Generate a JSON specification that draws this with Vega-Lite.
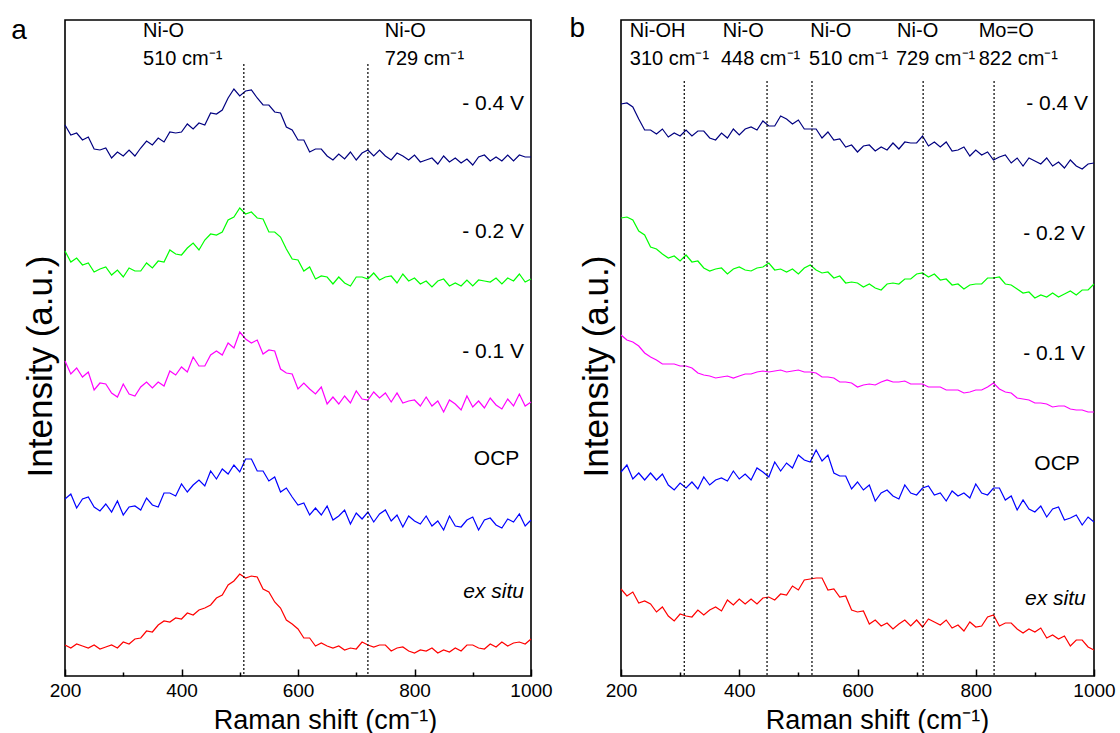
{
"$schema": "https://vega.github.io/schema/vega-lite/v6.json",
"padding": {"left": 10, "top": 14, "right": 10, "bottom": 1},
"background": "white",
"spacing": 90,
"bounds": "flush",
"config": {
  "view": {"stroke": "#000", "strokeWidth": 1.6},
  "font": "Liberation Sans",
  "text": {"font": "Liberation Sans", "color": "#000"}
},
"datasets": {
"pa": [
{"s":"-0.4 V","x":200,"y":548},{"s":"-0.4 V","x":210,"y":538},{"s":"-0.4 V","x":220,"y":540},{"s":"-0.4 V","x":230,"y":533},{"s":"-0.4 V","x":240,"y":536},{"s":"-0.4 V","x":250,"y":524},{"s":"-0.4 V","x":260,"y":523},{"s":"-0.4 V","x":270,"y":525},{"s":"-0.4 V","x":280,"y":515},{"s":"-0.4 V","x":290,"y":521},
{"s":"-0.4 V","x":300,"y":517},{"s":"-0.4 V","x":310,"y":523},{"s":"-0.4 V","x":320,"y":517},{"s":"-0.4 V","x":330,"y":525},{"s":"-0.4 V","x":340,"y":532},{"s":"-0.4 V","x":350,"y":528},{"s":"-0.4 V","x":360,"y":535},{"s":"-0.4 V","x":370,"y":531},{"s":"-0.4 V","x":380,"y":541},{"s":"-0.4 V","x":390,"y":540},
{"s":"-0.4 V","x":400,"y":541},{"s":"-0.4 V","x":410,"y":549},{"s":"-0.4 V","x":420,"y":544},{"s":"-0.4 V","x":430,"y":550},{"s":"-0.4 V","x":440,"y":548},{"s":"-0.4 V","x":450,"y":560},{"s":"-0.4 V","x":460,"y":559},{"s":"-0.4 V","x":470,"y":563},{"s":"-0.4 V","x":480,"y":575},{"s":"-0.4 V","x":490,"y":584},
{"s":"-0.4 V","x":500,"y":577},{"s":"-0.4 V","x":510,"y":582},{"s":"-0.4 V","x":520,"y":583},{"s":"-0.4 V","x":530,"y":575},{"s":"-0.4 V","x":540,"y":568},{"s":"-0.4 V","x":550,"y":568},{"s":"-0.4 V","x":560,"y":561},{"s":"-0.4 V","x":570,"y":560},{"s":"-0.4 V","x":580,"y":546},{"s":"-0.4 V","x":590,"y":543},
{"s":"-0.4 V","x":600,"y":533},{"s":"-0.4 V","x":610,"y":533},{"s":"-0.4 V","x":620,"y":521},{"s":"-0.4 V","x":630,"y":524},{"s":"-0.4 V","x":640,"y":524},{"s":"-0.4 V","x":650,"y":517},{"s":"-0.4 V","x":660,"y":513},{"s":"-0.4 V","x":670,"y":519},{"s":"-0.4 V","x":680,"y":514},{"s":"-0.4 V","x":690,"y":521},
{"s":"-0.4 V","x":700,"y":513},{"s":"-0.4 V","x":710,"y":520},{"s":"-0.4 V","x":720,"y":523},{"s":"-0.4 V","x":730,"y":517},{"s":"-0.4 V","x":740,"y":523},{"s":"-0.4 V","x":750,"y":517},{"s":"-0.4 V","x":760,"y":513},{"s":"-0.4 V","x":770,"y":520},{"s":"-0.4 V","x":780,"y":517},{"s":"-0.4 V","x":790,"y":513},
{"s":"-0.4 V","x":800,"y":518},{"s":"-0.4 V","x":810,"y":511},{"s":"-0.4 V","x":820,"y":513},{"s":"-0.4 V","x":830,"y":515},{"s":"-0.4 V","x":840,"y":509},{"s":"-0.4 V","x":850,"y":517},{"s":"-0.4 V","x":860,"y":511},{"s":"-0.4 V","x":870,"y":515},{"s":"-0.4 V","x":880,"y":510},{"s":"-0.4 V","x":890,"y":514},
{"s":"-0.4 V","x":900,"y":508},{"s":"-0.4 V","x":910,"y":516},{"s":"-0.4 V","x":920,"y":518},{"s":"-0.4 V","x":930,"y":512},{"s":"-0.4 V","x":940,"y":516},{"s":"-0.4 V","x":950,"y":512},{"s":"-0.4 V","x":960,"y":518},{"s":"-0.4 V","x":970,"y":512},{"s":"-0.4 V","x":980,"y":518},{"s":"-0.4 V","x":990,"y":516},{"s":"-0.4 V","x":1000,"y":516},
{"s":"-0.2 V","x":200,"y":422},{"s":"-0.2 V","x":210,"y":411},{"s":"-0.2 V","x":220,"y":415},{"s":"-0.2 V","x":230,"y":408},{"s":"-0.2 V","x":240,"y":410},{"s":"-0.2 V","x":250,"y":401},{"s":"-0.2 V","x":260,"y":404},{"s":"-0.2 V","x":270,"y":406},{"s":"-0.2 V","x":280,"y":398},{"s":"-0.2 V","x":290,"y":403},
{"s":"-0.2 V","x":300,"y":396},{"s":"-0.2 V","x":310,"y":405},{"s":"-0.2 V","x":320,"y":402},{"s":"-0.2 V","x":330,"y":402},{"s":"-0.2 V","x":340,"y":410},{"s":"-0.2 V","x":350,"y":405},{"s":"-0.2 V","x":360,"y":412},{"s":"-0.2 V","x":370,"y":411},{"s":"-0.2 V","x":380,"y":423},{"s":"-0.2 V","x":390,"y":419},
{"s":"-0.2 V","x":400,"y":418},{"s":"-0.2 V","x":410,"y":425},{"s":"-0.2 V","x":420,"y":430},{"s":"-0.2 V","x":430,"y":423},{"s":"-0.2 V","x":440,"y":433},{"s":"-0.2 V","x":450,"y":439},{"s":"-0.2 V","x":460,"y":438},{"s":"-0.2 V","x":470,"y":441},{"s":"-0.2 V","x":480,"y":453},{"s":"-0.2 V","x":490,"y":456},
{"s":"-0.2 V","x":500,"y":465},{"s":"-0.2 V","x":510,"y":459},{"s":"-0.2 V","x":520,"y":461},{"s":"-0.2 V","x":530,"y":455},{"s":"-0.2 V","x":540,"y":454},{"s":"-0.2 V","x":550,"y":441},{"s":"-0.2 V","x":560,"y":441},{"s":"-0.2 V","x":570,"y":436},{"s":"-0.2 V","x":580,"y":424},{"s":"-0.2 V","x":590,"y":414},
{"s":"-0.2 V","x":600,"y":413},{"s":"-0.2 V","x":610,"y":402},{"s":"-0.2 V","x":620,"y":406},{"s":"-0.2 V","x":630,"y":394},{"s":"-0.2 V","x":640,"y":397},{"s":"-0.2 V","x":650,"y":396},{"s":"-0.2 V","x":660,"y":389},{"s":"-0.2 V","x":670,"y":396},{"s":"-0.2 V","x":680,"y":390},{"s":"-0.2 V","x":690,"y":387},
{"s":"-0.2 V","x":700,"y":396},{"s":"-0.2 V","x":710,"y":396},{"s":"-0.2 V","x":720,"y":394},{"s":"-0.2 V","x":730,"y":400},{"s":"-0.2 V","x":740,"y":393},{"s":"-0.2 V","x":750,"y":396},{"s":"-0.2 V","x":760,"y":397},{"s":"-0.2 V","x":770,"y":390},{"s":"-0.2 V","x":780,"y":399},{"s":"-0.2 V","x":790,"y":392},
{"s":"-0.2 V","x":800,"y":395},{"s":"-0.2 V","x":810,"y":389},{"s":"-0.2 V","x":820,"y":392},{"s":"-0.2 V","x":830,"y":386},{"s":"-0.2 V","x":840,"y":392},{"s":"-0.2 V","x":850,"y":394},{"s":"-0.2 V","x":860,"y":387},{"s":"-0.2 V","x":870,"y":390},{"s":"-0.2 V","x":880,"y":387},{"s":"-0.2 V","x":890,"y":393},
{"s":"-0.2 V","x":900,"y":387},{"s":"-0.2 V","x":910,"y":393},{"s":"-0.2 V","x":920,"y":392},{"s":"-0.2 V","x":930,"y":391},{"s":"-0.2 V","x":940,"y":395},{"s":"-0.2 V","x":950,"y":389},{"s":"-0.2 V","x":960,"y":395},{"s":"-0.2 V","x":970,"y":392},{"s":"-0.2 V","x":980,"y":399},{"s":"-0.2 V","x":990,"y":391},{"s":"-0.2 V","x":1000,"y":394},
{"s":"-0.1 V","x":200,"y":312},{"s":"-0.1 V","x":210,"y":299},{"s":"-0.1 V","x":220,"y":305},{"s":"-0.1 V","x":230,"y":296},{"s":"-0.1 V","x":240,"y":301},{"s":"-0.1 V","x":250,"y":283},{"s":"-0.1 V","x":260,"y":290},{"s":"-0.1 V","x":270,"y":289},{"s":"-0.1 V","x":280,"y":280},{"s":"-0.1 V","x":290,"y":276},
{"s":"-0.1 V","x":300,"y":289},{"s":"-0.1 V","x":310,"y":279},{"s":"-0.1 V","x":320,"y":277},{"s":"-0.1 V","x":330,"y":286},{"s":"-0.1 V","x":340,"y":291},{"s":"-0.1 V","x":350,"y":285},{"s":"-0.1 V","x":360,"y":291},{"s":"-0.1 V","x":370,"y":287},{"s":"-0.1 V","x":380,"y":302},{"s":"-0.1 V","x":390,"y":298},
{"s":"-0.1 V","x":400,"y":306},{"s":"-0.1 V","x":410,"y":301},{"s":"-0.1 V","x":420,"y":316},{"s":"-0.1 V","x":430,"y":307},{"s":"-0.1 V","x":440,"y":307},{"s":"-0.1 V","x":450,"y":318},{"s":"-0.1 V","x":460,"y":322},{"s":"-0.1 V","x":470,"y":318},{"s":"-0.1 V","x":480,"y":330},{"s":"-0.1 V","x":490,"y":325},
{"s":"-0.1 V","x":500,"y":341},{"s":"-0.1 V","x":510,"y":334},{"s":"-0.1 V","x":520,"y":330},{"s":"-0.1 V","x":530,"y":333},{"s":"-0.1 V","x":540,"y":319},{"s":"-0.1 V","x":550,"y":323},{"s":"-0.1 V","x":560,"y":322},{"s":"-0.1 V","x":570,"y":304},{"s":"-0.1 V","x":580,"y":300},{"s":"-0.1 V","x":590,"y":299},
{"s":"-0.1 V","x":600,"y":284},{"s":"-0.1 V","x":610,"y":290},{"s":"-0.1 V","x":620,"y":284},{"s":"-0.1 V","x":630,"y":279},{"s":"-0.1 V","x":640,"y":286},{"s":"-0.1 V","x":650,"y":269},{"s":"-0.1 V","x":660,"y":276},{"s":"-0.1 V","x":670,"y":269},{"s":"-0.1 V","x":680,"y":277},{"s":"-0.1 V","x":690,"y":270},
{"s":"-0.1 V","x":700,"y":282},{"s":"-0.1 V","x":710,"y":274},{"s":"-0.1 V","x":720,"y":273},{"s":"-0.1 V","x":730,"y":281},{"s":"-0.1 V","x":740,"y":275},{"s":"-0.1 V","x":750,"y":280},{"s":"-0.1 V","x":760,"y":271},{"s":"-0.1 V","x":770,"y":280},{"s":"-0.1 V","x":780,"y":270},{"s":"-0.1 V","x":790,"y":272},
{"s":"-0.1 V","x":800,"y":273},{"s":"-0.1 V","x":810,"y":267},{"s":"-0.1 V","x":820,"y":276},{"s":"-0.1 V","x":830,"y":267},{"s":"-0.1 V","x":840,"y":272},{"s":"-0.1 V","x":850,"y":261},{"s":"-0.1 V","x":860,"y":273},{"s":"-0.1 V","x":870,"y":269},{"s":"-0.1 V","x":880,"y":263},{"s":"-0.1 V","x":890,"y":277},
{"s":"-0.1 V","x":900,"y":266},{"s":"-0.1 V","x":910,"y":272},{"s":"-0.1 V","x":920,"y":265},{"s":"-0.1 V","x":930,"y":275},{"s":"-0.1 V","x":940,"y":268},{"s":"-0.1 V","x":950,"y":264},{"s":"-0.1 V","x":960,"y":274},{"s":"-0.1 V","x":970,"y":267},{"s":"-0.1 V","x":980,"y":279},{"s":"-0.1 V","x":990,"y":267},{"s":"-0.1 V","x":1000,"y":271},
{"s":"OCP","x":200,"y":174},{"s":"OCP","x":210,"y":179},{"s":"OCP","x":220,"y":165},{"s":"OCP","x":230,"y":174},{"s":"OCP","x":240,"y":176},{"s":"OCP","x":250,"y":166},{"s":"OCP","x":260,"y":162},{"s":"OCP","x":270,"y":169},{"s":"OCP","x":280,"y":161},{"s":"OCP","x":290,"y":172},
{"s":"OCP","x":300,"y":158},{"s":"OCP","x":310,"y":166},{"s":"OCP","x":320,"y":167},{"s":"OCP","x":330,"y":163},{"s":"OCP","x":340,"y":175},{"s":"OCP","x":350,"y":168},{"s":"OCP","x":360,"y":166},{"s":"OCP","x":370,"y":180},{"s":"OCP","x":380,"y":180},{"s":"OCP","x":390,"y":177},
{"s":"OCP","x":400,"y":189},{"s":"OCP","x":410,"y":181},{"s":"OCP","x":420,"y":188},{"s":"OCP","x":430,"y":193},{"s":"OCP","x":440,"y":187},{"s":"OCP","x":450,"y":202},{"s":"OCP","x":460,"y":194},{"s":"OCP","x":470,"y":204},{"s":"OCP","x":480,"y":199},{"s":"OCP","x":490,"y":208},
{"s":"OCP","x":500,"y":201},{"s":"OCP","x":510,"y":214},{"s":"OCP","x":520,"y":214},{"s":"OCP","x":530,"y":202},{"s":"OCP","x":540,"y":202},{"s":"OCP","x":550,"y":192},{"s":"OCP","x":560,"y":196},{"s":"OCP","x":570,"y":181},{"s":"OCP","x":580,"y":185},{"s":"OCP","x":590,"y":176},
{"s":"OCP","x":600,"y":168},{"s":"OCP","x":610,"y":170},{"s":"OCP","x":620,"y":158},{"s":"OCP","x":630,"y":165},{"s":"OCP","x":640,"y":158},{"s":"OCP","x":650,"y":167},{"s":"OCP","x":660,"y":153},{"s":"OCP","x":670,"y":157},{"s":"OCP","x":680,"y":163},{"s":"OCP","x":690,"y":149},
{"s":"OCP","x":700,"y":160},{"s":"OCP","x":710,"y":154},{"s":"OCP","x":720,"y":161},{"s":"OCP","x":730,"y":151},{"s":"OCP","x":740,"y":159},{"s":"OCP","x":750,"y":163},{"s":"OCP","x":760,"y":152},{"s":"OCP","x":770,"y":158},{"s":"OCP","x":780,"y":146},{"s":"OCP","x":790,"y":157},
{"s":"OCP","x":800,"y":152},{"s":"OCP","x":810,"y":149},{"s":"OCP","x":820,"y":157},{"s":"OCP","x":830,"y":147},{"s":"OCP","x":840,"y":152},{"s":"OCP","x":850,"y":143},{"s":"OCP","x":860,"y":157},{"s":"OCP","x":870,"y":147},{"s":"OCP","x":880,"y":146},{"s":"OCP","x":890,"y":153},
{"s":"OCP","x":900,"y":156},{"s":"OCP","x":910,"y":143},{"s":"OCP","x":920,"y":153},{"s":"OCP","x":930,"y":155},{"s":"OCP","x":940,"y":148},{"s":"OCP","x":950,"y":145},{"s":"OCP","x":960,"y":154},{"s":"OCP","x":970,"y":151},{"s":"OCP","x":980,"y":159},{"s":"OCP","x":990,"y":147},{"s":"OCP","x":1000,"y":153},
{"s":"ex situ","x":200,"y":28},{"s":"ex situ","x":210,"y":25},{"s":"ex situ","x":220,"y":29},{"s":"ex situ","x":230,"y":27},{"s":"ex situ","x":240,"y":25},{"s":"ex situ","x":250,"y":28},{"s":"ex situ","x":260,"y":24},{"s":"ex situ","x":270,"y":26},{"s":"ex situ","x":280,"y":28},{"s":"ex situ","x":290,"y":25},
{"s":"ex situ","x":300,"y":31},{"s":"ex situ","x":310,"y":29},{"s":"ex situ","x":320,"y":34},{"s":"ex situ","x":330,"y":35},{"s":"ex situ","x":340,"y":42},{"s":"ex situ","x":350,"y":41},{"s":"ex situ","x":360,"y":48},{"s":"ex situ","x":370,"y":52},{"s":"ex situ","x":380,"y":51},{"s":"ex situ","x":390,"y":55},
{"s":"ex situ","x":400,"y":54},{"s":"ex situ","x":410,"y":60},{"s":"ex situ","x":420,"y":58},{"s":"ex situ","x":430,"y":63},{"s":"ex situ","x":440,"y":65},{"s":"ex situ","x":450,"y":68},{"s":"ex situ","x":460,"y":75},{"s":"ex situ","x":470,"y":78},{"s":"ex situ","x":480,"y":88},{"s":"ex situ","x":490,"y":92},
{"s":"ex situ","x":500,"y":99},{"s":"ex situ","x":510,"y":95},{"s":"ex situ","x":520,"y":97},{"s":"ex situ","x":530,"y":96},{"s":"ex situ","x":540,"y":84},{"s":"ex situ","x":550,"y":81},{"s":"ex situ","x":560,"y":71},{"s":"ex situ","x":570,"y":65},{"s":"ex situ","x":580,"y":53},{"s":"ex situ","x":590,"y":49},
{"s":"ex situ","x":600,"y":44},{"s":"ex situ","x":610,"y":35},{"s":"ex situ","x":620,"y":35},{"s":"ex situ","x":630,"y":27},{"s":"ex situ","x":640,"y":30},{"s":"ex situ","x":650,"y":27},{"s":"ex situ","x":660,"y":25},{"s":"ex situ","x":670,"y":27},{"s":"ex situ","x":680,"y":23},{"s":"ex situ","x":690,"y":25},
{"s":"ex situ","x":700,"y":24},{"s":"ex situ","x":710,"y":31},{"s":"ex situ","x":720,"y":28},{"s":"ex situ","x":730,"y":26},{"s":"ex situ","x":740,"y":28},{"s":"ex situ","x":750,"y":28},{"s":"ex situ","x":760,"y":22},{"s":"ex situ","x":770,"y":25},{"s":"ex situ","x":780,"y":26},{"s":"ex situ","x":790,"y":22},
{"s":"ex situ","x":800,"y":20},{"s":"ex situ","x":810,"y":23},{"s":"ex situ","x":820,"y":22},{"s":"ex situ","x":830,"y":25},{"s":"ex situ","x":840,"y":20},{"s":"ex situ","x":850,"y":23},{"s":"ex situ","x":860,"y":21},{"s":"ex situ","x":870,"y":25},{"s":"ex situ","x":880,"y":22},{"s":"ex situ","x":890,"y":28},
{"s":"ex situ","x":900,"y":28},{"s":"ex situ","x":910,"y":25},{"s":"ex situ","x":920,"y":24},{"s":"ex situ","x":930,"y":29},{"s":"ex situ","x":940,"y":26},{"s":"ex situ","x":950,"y":31},{"s":"ex situ","x":960,"y":27},{"s":"ex situ","x":970,"y":30},{"s":"ex situ","x":980,"y":31},{"s":"ex situ","x":990,"y":29},{"s":"ex situ","x":1000,"y":34}
],
"pb": [
{"s":"-0.4 V","x":200,"y":569},{"s":"-0.4 V","x":210,"y":570},{"s":"-0.4 V","x":220,"y":566},{"s":"-0.4 V","x":230,"y":554},{"s":"-0.4 V","x":240,"y":543},{"s":"-0.4 V","x":250,"y":543},{"s":"-0.4 V","x":260,"y":539},{"s":"-0.4 V","x":270,"y":544},{"s":"-0.4 V","x":280,"y":536},{"s":"-0.4 V","x":290,"y":540},
{"s":"-0.4 V","x":300,"y":537},{"s":"-0.4 V","x":310,"y":543},{"s":"-0.4 V","x":320,"y":537},{"s":"-0.4 V","x":330,"y":542},{"s":"-0.4 V","x":340,"y":542},{"s":"-0.4 V","x":350,"y":535},{"s":"-0.4 V","x":360,"y":533},{"s":"-0.4 V","x":370,"y":540},{"s":"-0.4 V","x":380,"y":535},{"s":"-0.4 V","x":390,"y":544},
{"s":"-0.4 V","x":400,"y":538},{"s":"-0.4 V","x":410,"y":544},{"s":"-0.4 V","x":420,"y":546},{"s":"-0.4 V","x":430,"y":543},{"s":"-0.4 V","x":440,"y":552},{"s":"-0.4 V","x":450,"y":547},{"s":"-0.4 V","x":460,"y":547},{"s":"-0.4 V","x":470,"y":557},{"s":"-0.4 V","x":480,"y":554},{"s":"-0.4 V","x":490,"y":549},
{"s":"-0.4 V","x":500,"y":553},{"s":"-0.4 V","x":510,"y":544},{"s":"-0.4 V","x":520,"y":544},{"s":"-0.4 V","x":530,"y":544},{"s":"-0.4 V","x":540,"y":535},{"s":"-0.4 V","x":550,"y":541},{"s":"-0.4 V","x":560,"y":533},{"s":"-0.4 V","x":570,"y":534},{"s":"-0.4 V","x":580,"y":526},{"s":"-0.4 V","x":590,"y":528},
{"s":"-0.4 V","x":600,"y":521},{"s":"-0.4 V","x":610,"y":527},{"s":"-0.4 V","x":620,"y":528},{"s":"-0.4 V","x":630,"y":522},{"s":"-0.4 V","x":640,"y":526},{"s":"-0.4 V","x":650,"y":523},{"s":"-0.4 V","x":660,"y":530},{"s":"-0.4 V","x":670,"y":524},{"s":"-0.4 V","x":680,"y":531},{"s":"-0.4 V","x":690,"y":530},
{"s":"-0.4 V","x":700,"y":530},{"s":"-0.4 V","x":710,"y":537},{"s":"-0.4 V","x":720,"y":527},{"s":"-0.4 V","x":730,"y":531},{"s":"-0.4 V","x":740,"y":526},{"s":"-0.4 V","x":750,"y":531},{"s":"-0.4 V","x":760,"y":522},{"s":"-0.4 V","x":770,"y":523},{"s":"-0.4 V","x":780,"y":526},{"s":"-0.4 V","x":790,"y":517},
{"s":"-0.4 V","x":800,"y":523},{"s":"-0.4 V","x":810,"y":518},{"s":"-0.4 V","x":820,"y":521},{"s":"-0.4 V","x":830,"y":513},{"s":"-0.4 V","x":840,"y":516},{"s":"-0.4 V","x":850,"y":518},{"s":"-0.4 V","x":860,"y":510},{"s":"-0.4 V","x":870,"y":515},{"s":"-0.4 V","x":880,"y":507},{"s":"-0.4 V","x":890,"y":515},
{"s":"-0.4 V","x":900,"y":512},{"s":"-0.4 V","x":910,"y":509},{"s":"-0.4 V","x":920,"y":515},{"s":"-0.4 V","x":930,"y":507},{"s":"-0.4 V","x":940,"y":511},{"s":"-0.4 V","x":950,"y":505},{"s":"-0.4 V","x":960,"y":513},{"s":"-0.4 V","x":970,"y":507},{"s":"-0.4 V","x":980,"y":504},{"s":"-0.4 V","x":990,"y":509},{"s":"-0.4 V","x":1000,"y":510},
{"s":"-0.2 V","x":200,"y":455},{"s":"-0.2 V","x":210,"y":456},{"s":"-0.2 V","x":220,"y":453},{"s":"-0.2 V","x":230,"y":442},{"s":"-0.2 V","x":240,"y":438},{"s":"-0.2 V","x":250,"y":426},{"s":"-0.2 V","x":260,"y":424},{"s":"-0.2 V","x":270,"y":419},{"s":"-0.2 V","x":280,"y":415},{"s":"-0.2 V","x":290,"y":417},
{"s":"-0.2 V","x":300,"y":412},{"s":"-0.2 V","x":310,"y":418},{"s":"-0.2 V","x":320,"y":411},{"s":"-0.2 V","x":330,"y":412},{"s":"-0.2 V","x":340,"y":405},{"s":"-0.2 V","x":350,"y":402},{"s":"-0.2 V","x":360,"y":404},{"s":"-0.2 V","x":370,"y":405},{"s":"-0.2 V","x":380,"y":399},{"s":"-0.2 V","x":390,"y":404},
{"s":"-0.2 V","x":400,"y":406},{"s":"-0.2 V","x":410,"y":403},{"s":"-0.2 V","x":420,"y":402},{"s":"-0.2 V","x":430,"y":405},{"s":"-0.2 V","x":440,"y":406},{"s":"-0.2 V","x":450,"y":410},{"s":"-0.2 V","x":460,"y":403},{"s":"-0.2 V","x":470,"y":404},{"s":"-0.2 V","x":480,"y":401},{"s":"-0.2 V","x":490,"y":404},
{"s":"-0.2 V","x":500,"y":399},{"s":"-0.2 V","x":510,"y":405},{"s":"-0.2 V","x":520,"y":408},{"s":"-0.2 V","x":530,"y":403},{"s":"-0.2 V","x":540,"y":400},{"s":"-0.2 V","x":550,"y":401},{"s":"-0.2 V","x":560,"y":395},{"s":"-0.2 V","x":570,"y":397},{"s":"-0.2 V","x":580,"y":390},{"s":"-0.2 V","x":590,"y":391},
{"s":"-0.2 V","x":600,"y":390},{"s":"-0.2 V","x":610,"y":386},{"s":"-0.2 V","x":620,"y":389},{"s":"-0.2 V","x":630,"y":385},{"s":"-0.2 V","x":640,"y":383},{"s":"-0.2 V","x":650,"y":389},{"s":"-0.2 V","x":660,"y":390},{"s":"-0.2 V","x":670,"y":389},{"s":"-0.2 V","x":680,"y":394},{"s":"-0.2 V","x":690,"y":394},
{"s":"-0.2 V","x":700,"y":399},{"s":"-0.2 V","x":710,"y":400},{"s":"-0.2 V","x":720,"y":396},{"s":"-0.2 V","x":730,"y":399},{"s":"-0.2 V","x":740,"y":393},{"s":"-0.2 V","x":750,"y":394},{"s":"-0.2 V","x":760,"y":388},{"s":"-0.2 V","x":770,"y":389},{"s":"-0.2 V","x":780,"y":384},{"s":"-0.2 V","x":790,"y":388},
{"s":"-0.2 V","x":800,"y":389},{"s":"-0.2 V","x":810,"y":389},{"s":"-0.2 V","x":820,"y":395},{"s":"-0.2 V","x":830,"y":395},{"s":"-0.2 V","x":840,"y":396},{"s":"-0.2 V","x":850,"y":389},{"s":"-0.2 V","x":860,"y":388},{"s":"-0.2 V","x":870,"y":384},{"s":"-0.2 V","x":880,"y":380},{"s":"-0.2 V","x":890,"y":381},
{"s":"-0.2 V","x":900,"y":375},{"s":"-0.2 V","x":910,"y":378},{"s":"-0.2 V","x":920,"y":376},{"s":"-0.2 V","x":930,"y":380},{"s":"-0.2 V","x":940,"y":376},{"s":"-0.2 V","x":950,"y":379},{"s":"-0.2 V","x":960,"y":382},{"s":"-0.2 V","x":970,"y":378},{"s":"-0.2 V","x":980,"y":383},{"s":"-0.2 V","x":990,"y":383},{"s":"-0.2 V","x":1000,"y":389},
{"s":"-0.1 V","x":200,"y":338},{"s":"-0.1 V","x":210,"y":333},{"s":"-0.1 V","x":220,"y":331},{"s":"-0.1 V","x":230,"y":327},{"s":"-0.1 V","x":240,"y":320},{"s":"-0.1 V","x":250,"y":316},{"s":"-0.1 V","x":260,"y":313},{"s":"-0.1 V","x":270,"y":309},{"s":"-0.1 V","x":280,"y":309},{"s":"-0.1 V","x":290,"y":309},
{"s":"-0.1 V","x":300,"y":307},{"s":"-0.1 V","x":310,"y":307},{"s":"-0.1 V","x":320,"y":305},{"s":"-0.1 V","x":330,"y":300},{"s":"-0.1 V","x":340,"y":298},{"s":"-0.1 V","x":350,"y":297},{"s":"-0.1 V","x":360,"y":295},{"s":"-0.1 V","x":370,"y":296},{"s":"-0.1 V","x":380,"y":297},{"s":"-0.1 V","x":390,"y":295},
{"s":"-0.1 V","x":400,"y":297},{"s":"-0.1 V","x":410,"y":299},{"s":"-0.1 V","x":420,"y":299},{"s":"-0.1 V","x":430,"y":301},{"s":"-0.1 V","x":440,"y":302},{"s":"-0.1 V","x":450,"y":301},{"s":"-0.1 V","x":460,"y":302},{"s":"-0.1 V","x":470,"y":303},{"s":"-0.1 V","x":480,"y":301},{"s":"-0.1 V","x":490,"y":302},
{"s":"-0.1 V","x":500,"y":303},{"s":"-0.1 V","x":510,"y":301},{"s":"-0.1 V","x":520,"y":301},{"s":"-0.1 V","x":530,"y":300},{"s":"-0.1 V","x":540,"y":296},{"s":"-0.1 V","x":550,"y":296},{"s":"-0.1 V","x":560,"y":295},{"s":"-0.1 V","x":570,"y":291},{"s":"-0.1 V","x":580,"y":291},{"s":"-0.1 V","x":590,"y":290},
{"s":"-0.1 V","x":600,"y":286},{"s":"-0.1 V","x":610,"y":288},{"s":"-0.1 V","x":620,"y":289},{"s":"-0.1 V","x":630,"y":288},{"s":"-0.1 V","x":640,"y":291},{"s":"-0.1 V","x":650,"y":293},{"s":"-0.1 V","x":660,"y":291},{"s":"-0.1 V","x":670,"y":291},{"s":"-0.1 V","x":680,"y":292},{"s":"-0.1 V","x":690,"y":289},
{"s":"-0.1 V","x":700,"y":289},{"s":"-0.1 V","x":710,"y":289},{"s":"-0.1 V","x":720,"y":286},{"s":"-0.1 V","x":730,"y":286},{"s":"-0.1 V","x":740,"y":286},{"s":"-0.1 V","x":750,"y":283},{"s":"-0.1 V","x":760,"y":283},{"s":"-0.1 V","x":770,"y":283},{"s":"-0.1 V","x":780,"y":280},{"s":"-0.1 V","x":790,"y":281},
{"s":"-0.1 V","x":800,"y":283},{"s":"-0.1 V","x":810,"y":283},{"s":"-0.1 V","x":820,"y":286},{"s":"-0.1 V","x":830,"y":290},{"s":"-0.1 V","x":840,"y":284},{"s":"-0.1 V","x":850,"y":281},{"s":"-0.1 V","x":860,"y":280},{"s":"-0.1 V","x":870,"y":275},{"s":"-0.1 V","x":880,"y":274},{"s":"-0.1 V","x":890,"y":273},
{"s":"-0.1 V","x":900,"y":270},{"s":"-0.1 V","x":910,"y":270},{"s":"-0.1 V","x":920,"y":269},{"s":"-0.1 V","x":930,"y":266},{"s":"-0.1 V","x":940,"y":267},{"s":"-0.1 V","x":950,"y":267},{"s":"-0.1 V","x":960,"y":264},{"s":"-0.1 V","x":970,"y":263},{"s":"-0.1 V","x":980,"y":263},{"s":"-0.1 V","x":990,"y":261},{"s":"-0.1 V","x":1000,"y":261},
{"s":"OCP","x":200,"y":201},{"s":"OCP","x":210,"y":208},{"s":"OCP","x":220,"y":194},{"s":"OCP","x":230,"y":200},{"s":"OCP","x":240,"y":193},{"s":"OCP","x":250,"y":200},{"s":"OCP","x":260,"y":193},{"s":"OCP","x":270,"y":199},{"s":"OCP","x":280,"y":188},{"s":"OCP","x":290,"y":183},
{"s":"OCP","x":300,"y":190},{"s":"OCP","x":310,"y":185},{"s":"OCP","x":320,"y":191},{"s":"OCP","x":330,"y":184},{"s":"OCP","x":340,"y":196},{"s":"OCP","x":350,"y":188},{"s":"OCP","x":360,"y":193},{"s":"OCP","x":370,"y":195},{"s":"OCP","x":380,"y":192},{"s":"OCP","x":390,"y":202},
{"s":"OCP","x":400,"y":194},{"s":"OCP","x":410,"y":199},{"s":"OCP","x":420,"y":193},{"s":"OCP","x":430,"y":205},{"s":"OCP","x":440,"y":201},{"s":"OCP","x":450,"y":196},{"s":"OCP","x":460,"y":211},{"s":"OCP","x":470,"y":202},{"s":"OCP","x":480,"y":210},{"s":"OCP","x":490,"y":205},
{"s":"OCP","x":500,"y":218},{"s":"OCP","x":510,"y":213},{"s":"OCP","x":520,"y":211},{"s":"OCP","x":530,"y":223},{"s":"OCP","x":540,"y":212},{"s":"OCP","x":550,"y":218},{"s":"OCP","x":560,"y":200},{"s":"OCP","x":570,"y":197},{"s":"OCP","x":580,"y":197},{"s":"OCP","x":590,"y":184},
{"s":"OCP","x":600,"y":191},{"s":"OCP","x":610,"y":183},{"s":"OCP","x":620,"y":188},{"s":"OCP","x":630,"y":172},{"s":"OCP","x":640,"y":180},{"s":"OCP","x":650,"y":183},{"s":"OCP","x":660,"y":177},{"s":"OCP","x":670,"y":174},{"s":"OCP","x":680,"y":188},{"s":"OCP","x":690,"y":180},
{"s":"OCP","x":700,"y":178},{"s":"OCP","x":710,"y":185},{"s":"OCP","x":720,"y":187},{"s":"OCP","x":730,"y":178},{"s":"OCP","x":740,"y":180},{"s":"OCP","x":750,"y":172},{"s":"OCP","x":760,"y":182},{"s":"OCP","x":770,"y":177},{"s":"OCP","x":780,"y":180},{"s":"OCP","x":790,"y":175},
{"s":"OCP","x":800,"y":189},{"s":"OCP","x":810,"y":180},{"s":"OCP","x":820,"y":178},{"s":"OCP","x":830,"y":185},{"s":"OCP","x":840,"y":185},{"s":"OCP","x":850,"y":173},{"s":"OCP","x":860,"y":177},{"s":"OCP","x":870,"y":163},{"s":"OCP","x":880,"y":173},{"s":"OCP","x":890,"y":164},
{"s":"OCP","x":900,"y":161},{"s":"OCP","x":910,"y":167},{"s":"OCP","x":920,"y":156},{"s":"OCP","x":930,"y":164},{"s":"OCP","x":940,"y":166},{"s":"OCP","x":950,"y":153},{"s":"OCP","x":960,"y":155},{"s":"OCP","x":970,"y":158},{"s":"OCP","x":980,"y":148},{"s":"OCP","x":990,"y":156},{"s":"OCP","x":1000,"y":151},
{"s":"ex situ","x":200,"y":84},{"s":"ex situ","x":210,"y":77},{"s":"ex situ","x":220,"y":81},{"s":"ex situ","x":230,"y":70},{"s":"ex situ","x":240,"y":72},{"s":"ex situ","x":250,"y":69},{"s":"ex situ","x":260,"y":61},{"s":"ex situ","x":270,"y":66},{"s":"ex situ","x":280,"y":57},{"s":"ex situ","x":290,"y":52},
{"s":"ex situ","x":300,"y":59},{"s":"ex situ","x":310,"y":57},{"s":"ex situ","x":320,"y":56},{"s":"ex situ","x":330,"y":63},{"s":"ex situ","x":340,"y":58},{"s":"ex situ","x":350,"y":63},{"s":"ex situ","x":360,"y":66},{"s":"ex situ","x":370,"y":62},{"s":"ex situ","x":380,"y":73},{"s":"ex situ","x":390,"y":68},
{"s":"ex situ","x":400,"y":74},{"s":"ex situ","x":410,"y":69},{"s":"ex situ","x":420,"y":74},{"s":"ex situ","x":430,"y":69},{"s":"ex situ","x":440,"y":75},{"s":"ex situ","x":450,"y":76},{"s":"ex situ","x":460,"y":73},{"s":"ex situ","x":470,"y":79},{"s":"ex situ","x":480,"y":78},{"s":"ex situ","x":490,"y":87},
{"s":"ex situ","x":500,"y":83},{"s":"ex situ","x":510,"y":93},{"s":"ex situ","x":520,"y":94},{"s":"ex situ","x":530,"y":95},{"s":"ex situ","x":540,"y":95},{"s":"ex situ","x":550,"y":83},{"s":"ex situ","x":560,"y":84},{"s":"ex situ","x":570,"y":76},{"s":"ex situ","x":580,"y":77},{"s":"ex situ","x":590,"y":63},
{"s":"ex situ","x":600,"y":61},{"s":"ex situ","x":610,"y":62},{"s":"ex situ","x":620,"y":49},{"s":"ex situ","x":630,"y":53},{"s":"ex situ","x":640,"y":47},{"s":"ex situ","x":650,"y":50},{"s":"ex situ","x":660,"y":44},{"s":"ex situ","x":670,"y":49},{"s":"ex situ","x":680,"y":53},{"s":"ex situ","x":690,"y":47},
{"s":"ex situ","x":700,"y":53},{"s":"ex situ","x":710,"y":46},{"s":"ex situ","x":720,"y":54},{"s":"ex situ","x":730,"y":51},{"s":"ex situ","x":740,"y":48},{"s":"ex situ","x":750,"y":53},{"s":"ex situ","x":760,"y":45},{"s":"ex situ","x":770,"y":48},{"s":"ex situ","x":780,"y":42},{"s":"ex situ","x":790,"y":51},
{"s":"ex situ","x":800,"y":46},{"s":"ex situ","x":810,"y":47},{"s":"ex situ","x":820,"y":56},{"s":"ex situ","x":830,"y":58},{"s":"ex situ","x":840,"y":47},{"s":"ex situ","x":850,"y":50},{"s":"ex situ","x":860,"y":50},{"s":"ex situ","x":870,"y":44},{"s":"ex situ","x":880,"y":40},{"s":"ex situ","x":890,"y":44},
{"s":"ex situ","x":900,"y":41},{"s":"ex situ","x":910,"y":45},{"s":"ex situ","x":920,"y":35},{"s":"ex situ","x":930,"y":38},{"s":"ex situ","x":940,"y":34},{"s":"ex situ","x":950,"y":37},{"s":"ex situ","x":960,"y":27},{"s":"ex situ","x":970,"y":33},{"s":"ex situ","x":980,"y":33},{"s":"ex situ","x":990,"y":26},{"s":"ex situ","x":1000,"y":23}
]
},
"hconcat": [
{
  "width": 466, "height": 656,
  "encoding": {
    "x": {"field": "x", "type": "quantitative", "scale": {"domain": [200, 1000], "nice": false, "zero": false},
      "axis": {"values": [200,300,400,500,600,700,800,900,1000], "labelExpr": "datum.value % 200 === 0 ? datum.label : ''", "format": "d",
        "tickSize": {"condition": {"test": "datum.value % 200 === 0", "value": -7}, "value": -4},
        "tickColor": "#000", "tickWidth": 1.5, "domain": false, "grid": false, "labelFlush": false, "labelOverlap": false,
        "labelFont": "Liberation Sans", "labelFontSize": 19, "labelColor": "#000", "labelPadding": 12,
        "title": "Raman shift (cm⁻¹)", "titleFont": "Liberation Sans", "titleFontSize": 27, "titleFontWeight": "normal", "titleColor": "#000", "titleX": 260, "titleY": 52, "titleBaseline": "alphabetic"}},
    "y": {"field": "y", "type": "quantitative", "scale": {"domain": [-3, 653], "nice": false, "zero": false},
      "axis": {"title": "Intensity (a.u.)", "labels": false, "ticks": false, "domain": false, "grid": false,
        "titleFont": "Liberation Sans", "titleFontSize": 35, "titleFontWeight": "normal", "titleColor": "#000", "titleX": -14, "titleY": 346, "titleBaseline": "alphabetic"}}
  },
  "layer": [
    {"data": {"name": "pa"}, "mark": {"type": "line", "strokeWidth": 1.2},
     "encoding": {"color": {"field": "s", "type": "nominal", "scale": {"domain": ["-0.4 V","-0.2 V","-0.1 V","OCP","ex situ"], "range": ["#000080","#00ff00","#ff00ff","#0000ff","#ff0000"]}, "legend": null}}},
    {"data": {"values": [{"x": 507, "y": 609}, {"x": 720, "y": 609}]}, "mark": {"type": "rule", "strokeDash": [2, 2], "strokeWidth": 1.2, "color": "#000"}, "encoding": {"y2": {"datum": -3}}},
    {"data": {"values": [{"t": "Ni-O", "x": 334, "y": 642}, {"t": "510 cm⁻¹", "x": 334, "y": 614}, {"t": "Ni-O", "x": 749, "y": 642}, {"t": "729 cm⁻¹", "x": 749, "y": 614}]},
     "mark": {"type": "text", "align": "left", "baseline": "middle", "fontSize": 20, "font": "Liberation Sans", "color": "#000"}, "encoding": {"text": {"field": "t"}}},
    {"data": {"values": [{"t": "- 0.4 V", "x": 988, "y": 569}, {"t": "- 0.2 V", "x": 988, "y": 441}, {"t": "- 0.1 V", "x": 988, "y": 321}, {"t": "OCP", "x": 980, "y": 214}]},
     "mark": {"type": "text", "align": "right", "baseline": "middle", "fontSize": 21, "font": "Liberation Sans", "color": "#000"}, "encoding": {"text": {"field": "t"}}},
    {"data": {"values": [{"t": "ex situ", "x": 988, "y": 81}]},
     "mark": {"type": "text", "align": "right", "baseline": "middle", "fontSize": 21, "fontStyle": "italic", "font": "Liberation Sans", "color": "#000"}, "encoding": {"text": {"field": "t"}}},
    {"data": {"values": [{"t": "a", "x": 121, "y": 642}]},
     "mark": {"type": "text", "align": "center", "baseline": "middle", "fontSize": 28, "font": "Liberation Sans", "color": "#000"}, "encoding": {"text": {"field": "t"}}}
  ]
},
{
  "width": 473, "height": 656,
  "encoding": {
    "x": {"field": "x", "type": "quantitative", "scale": {"domain": [200, 1000], "nice": false, "zero": false},
      "axis": {"values": [200,300,400,500,600,700,800,900,1000], "labelExpr": "datum.value % 200 === 0 ? datum.label : ''", "format": "d",
        "tickSize": {"condition": {"test": "datum.value % 200 === 0", "value": -7}, "value": -4},
        "tickColor": "#000", "tickWidth": 1.5, "domain": false, "grid": false, "labelFlush": false, "labelOverlap": false,
        "labelFont": "Liberation Sans", "labelFontSize": 19, "labelColor": "#000", "labelPadding": 12,
        "title": "Raman shift (cm⁻¹)", "titleFont": "Liberation Sans", "titleFontSize": 27, "titleFontWeight": "normal", "titleColor": "#000", "titleX": 256, "titleY": 52, "titleBaseline": "alphabetic"}},
    "y": {"field": "y", "type": "quantitative", "scale": {"domain": [-3, 653], "nice": false, "zero": false},
      "axis": {"title": "Intensity (a.u.)", "labels": false, "ticks": false, "domain": false, "grid": false,
        "titleFont": "Liberation Sans", "titleFontSize": 35, "titleFontWeight": "normal", "titleColor": "#000", "titleX": -14, "titleY": 346, "titleBaseline": "alphabetic"}}
  },
  "layer": [
    {"data": {"name": "pb"}, "mark": {"type": "line", "strokeWidth": 1.2},
     "encoding": {"color": {"field": "s", "type": "nominal", "scale": {"domain": ["-0.4 V","-0.2 V","-0.1 V","OCP","ex situ"], "range": ["#000080","#00ff00","#ff00ff","#0000ff","#ff0000"]}, "legend": null}}},
    {"data": {"values": [{"x": 307, "y": 592}, {"x": 447, "y": 592}, {"x": 523, "y": 592}, {"x": 711, "y": 592}, {"x": 831, "y": 592}]}, "mark": {"type": "rule", "strokeDash": [2, 2], "strokeWidth": 1.2, "color": "#000"}, "encoding": {"y2": {"datum": -3}}},
    {"data": {"values": [{"t": "Ni-OH", "x": 215, "y": 642}, {"t": "310 cm⁻¹", "x": 215, "y": 614}, {"t": "Ni-O", "x": 372, "y": 642}, {"t": "448 cm⁻¹", "x": 369, "y": 614}, {"t": "Ni-O", "x": 520, "y": 642}, {"t": "510 cm⁻¹", "x": 518, "y": 614}, {"t": "Ni-O", "x": 667, "y": 642}, {"t": "729 cm⁻¹", "x": 665, "y": 614}, {"t": "Mo=O", "x": 805, "y": 642}, {"t": "822 cm⁻¹", "x": 805, "y": 614}]},
     "mark": {"type": "text", "align": "left", "baseline": "middle", "fontSize": 20, "font": "Liberation Sans", "color": "#000"}, "encoding": {"text": {"field": "t"}}},
    {"data": {"values": [{"t": "- 0.4 V", "x": 990, "y": 569}, {"t": "- 0.2 V", "x": 985, "y": 439}, {"t": "- 0.1 V", "x": 985, "y": 319}, {"t": "OCP", "x": 976, "y": 209}]},
     "mark": {"type": "text", "align": "right", "baseline": "middle", "fontSize": 21, "font": "Liberation Sans", "color": "#000"}, "encoding": {"text": {"field": "t"}}},
    {"data": {"values": [{"t": "ex situ", "x": 986, "y": 74}]},
     "mark": {"type": "text", "align": "right", "baseline": "middle", "fontSize": 21, "fontStyle": "italic", "font": "Liberation Sans", "color": "#000"}, "encoding": {"text": {"field": "t"}}},
    {"data": {"values": [{"t": "b", "x": 126, "y": 644}]},
     "mark": {"type": "text", "align": "center", "baseline": "middle", "fontSize": 28, "font": "Liberation Sans", "color": "#000"}, "encoding": {"text": {"field": "t"}}}
  ]
}
]
}
